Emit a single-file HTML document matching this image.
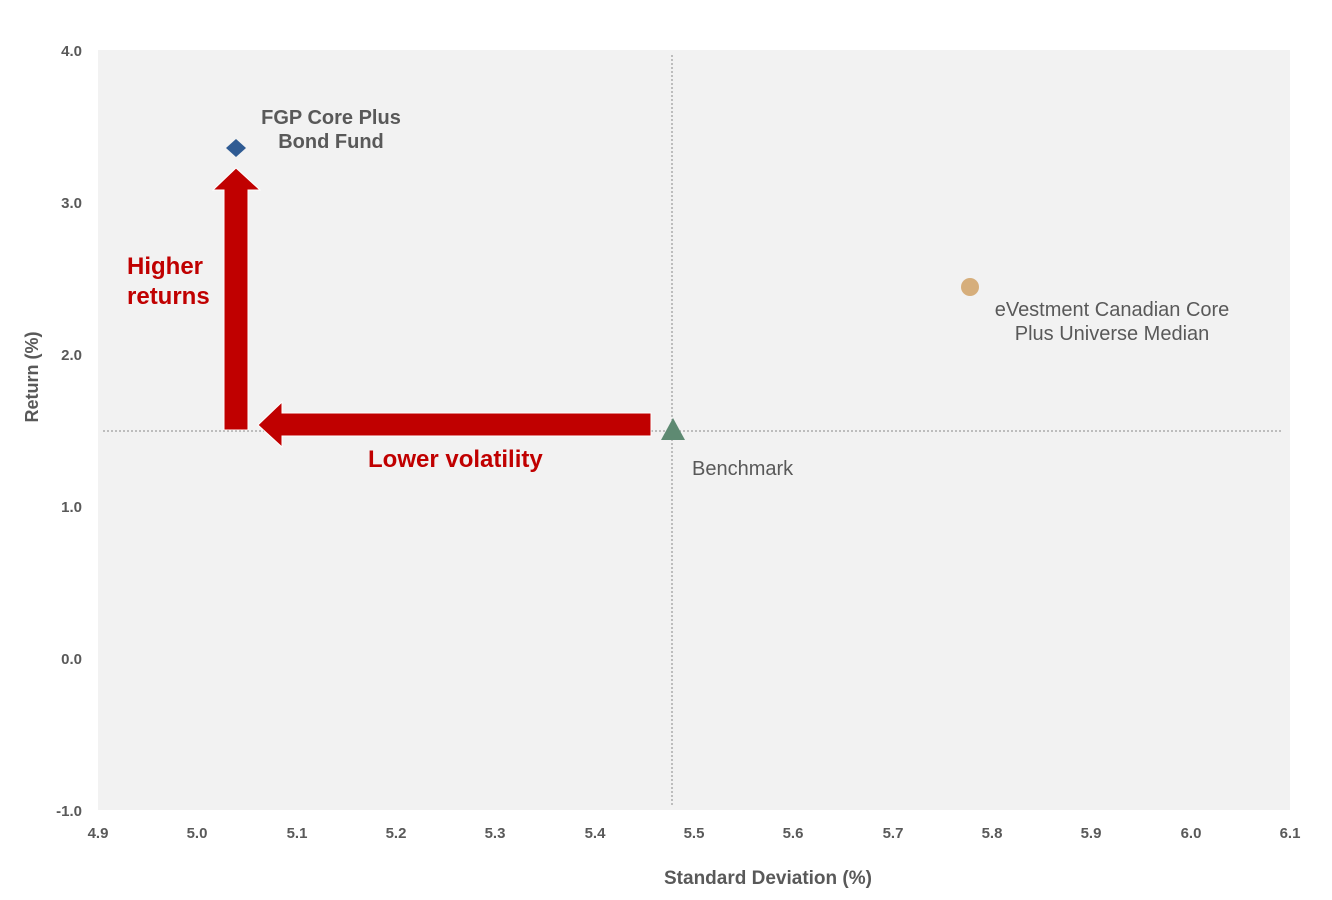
<!DOCTYPE html>
<html><head><meta charset="utf-8"><style>body{margin:0;background:#fff}svg{display:block}</style></head><body>
<svg width="1332" height="900" xmlns="http://www.w3.org/2000/svg" font-family="Liberation Sans, sans-serif">
<rect x="0" y="0" width="1332" height="900" fill="#fff"/>
<rect x="98" y="50" width="1192" height="760" fill="#f2f2f2"/>
<line x1="103" y1="431" x2="1282" y2="431" stroke="#888" stroke-width="1" stroke-dasharray="2,2"/>
<line x1="672" y1="55" x2="672" y2="805" stroke="#888" stroke-width="1" stroke-dasharray="2,2"/>
<g fill="#595959" font-size="15" font-weight="bold" text-anchor="end">
<text x="82" y="56">4.0</text><text x="82" y="208">3.0</text><text x="82" y="360">2.0</text>
<text x="82" y="512">1.0</text><text x="82" y="664">0.0</text><text x="82" y="816">-1.0</text>
</g>
<g fill="#595959" font-size="15" font-weight="bold" text-anchor="middle">
<text x="98" y="838">4.9</text><text x="197" y="838">5.0</text><text x="297" y="838">5.1</text>
<text x="396" y="838">5.2</text><text x="495" y="838">5.3</text><text x="595" y="838">5.4</text>
<text x="694" y="838">5.5</text><text x="793" y="838">5.6</text><text x="893" y="838">5.7</text>
<text x="992" y="838">5.8</text><text x="1091" y="838">5.9</text><text x="1191" y="838">6.0</text>
<text x="1290" y="838">6.1</text>
<text x="768" y="884" font-size="19">Standard Deviation (%)</text>
</g>
<text transform="translate(38,377) rotate(-90)" fill="#595959" font-size="18" font-weight="bold" text-anchor="middle">Return (%)</text>
<polygon points="224,430 248,430 248,190 260,190 236,168 213,190 224,190" fill="#c00000" stroke="#fff" stroke-width="1"/>
<polygon points="651,413 651,436 282,436 282,447 258,425 282,402 282,413" fill="#c00000" stroke="#fff" stroke-width="1"/>
<polygon points="236,139 246,148 236,157 226,148" fill="#2f5b93"/>
<polygon points="673,418 685,440 661,440" fill="#5e8a72"/>
<circle cx="970" cy="287" r="9" fill="#d6ae7b"/>
<g fill="#595959" font-size="20" font-weight="bold" text-anchor="middle">
<text x="331" y="124">FGP Core Plus</text><text x="331" y="148">Bond Fund</text>
</g>
<g fill="#595959" font-size="20" text-anchor="middle">
<text x="1112" y="316">eVestment Canadian Core</text><text x="1112" y="340">Plus Universe Median</text>
</g>
<text x="692" y="475" fill="#595959" font-size="20">Benchmark</text>
<g fill="#c00000" font-size="24" font-weight="bold">
<text x="127" y="274">Higher</text><text x="127" y="304">returns</text>
<text x="368" y="467">Lower volatility</text>
</g>
</svg>
</body></html>
